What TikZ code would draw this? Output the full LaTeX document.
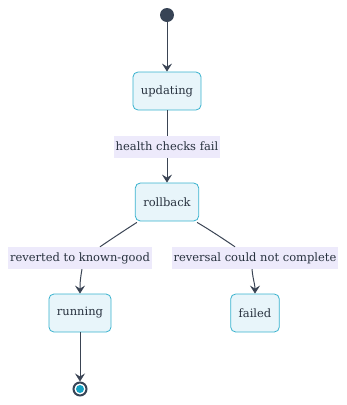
\documentclass[tikz,border=0pt]{standalone}
\usepackage{fontspec}
\setmainfont{DejaVu Serif}
\usetikzlibrary{arrows.meta, positioning}

\definecolor{boxfill}{HTML}{E8F5FA}
\definecolor{boxline}{HTML}{38B2CE}
\definecolor{lblfill}{HTML}{EDEAFB}
\definecolor{ink}{HTML}{28323F}
\definecolor{edgeink}{HTML}{3A4454}
\definecolor{dotink}{HTML}{374355}
\definecolor{endfill}{HTML}{16A2C3}

\begin{document}
\begin{tikzpicture}[x=1pt, y=-1pt, >={Stealth[length=8pt, width=10pt, inset=3pt]},
    state/.style={draw=boxline, fill=boxfill, rounded corners=5pt, line width=0.8pt,
        minimum height=38pt, inner xsep=8pt, text=ink, font=\fontsize{11.5}{14}\selectfont},
    lbl/.style={fill=lblfill, inner xsep=2pt, inner ysep=0pt, minimum height=22pt,
        text=ink, font=\fontsize{11.5}{14}\selectfont},
    flow/.style={->, draw=edgeink, line width=1pt}]
    \useasboundingbox (0,0) rectangle (346,405);

    % 1. Trạng thái
    \node[circle, fill=dotink, minimum size=14pt, inner sep=0pt] (start) at (167,15) {};
    \node[state] (updating) at (167,91) {updating};
    \node[state] (rollback) at (167,202) {rollback};
    \node[state] (running) at (80,313) {running};
    \node[state] (failed) at (255,313) {failed};
    \node[circle, draw=dotink, line width=2pt, fill=white, minimum size=13pt, inner sep=0pt] (finish) at (80,389) {};
    \fill[endfill] (finish) circle (4pt);

    % 2. Nhãn chuyển trạng thái
    \node[lbl] (revgood) at (80,258) {reverted to known-good};
    \node[lbl] (revfail) at (255,258) {reversal could not complete};

    % 3. Chuyển trạng thái
    \draw[flow] (start) -- (updating);
    \draw[flow] (updating) -- node[lbl] (hcfail) {health checks fail} (rollback);

    \draw[draw=edgeink, line width=1pt] ([xshift=2pt, yshift=-1pt]rollback.south west)
        .. controls (125,230) and (110,240) .. ([xshift=20pt]revgood.north);
    \draw[flow] ([xshift=2pt]revgood.south) .. controls (80,280) and (80,285) .. (running.north);

    \draw[draw=edgeink, line width=1pt] ([xshift=-2pt, yshift=-1pt]rollback.south east)
        .. controls (210,230) and (225,240) .. ([xshift=-20pt]revfail.north);
    \draw[flow] ([xshift=-3pt]revfail.south) .. controls (253,280) and (255,284) .. (failed.north);

    \draw[flow] (running) -- (finish);
\end{tikzpicture}
\end{document}
